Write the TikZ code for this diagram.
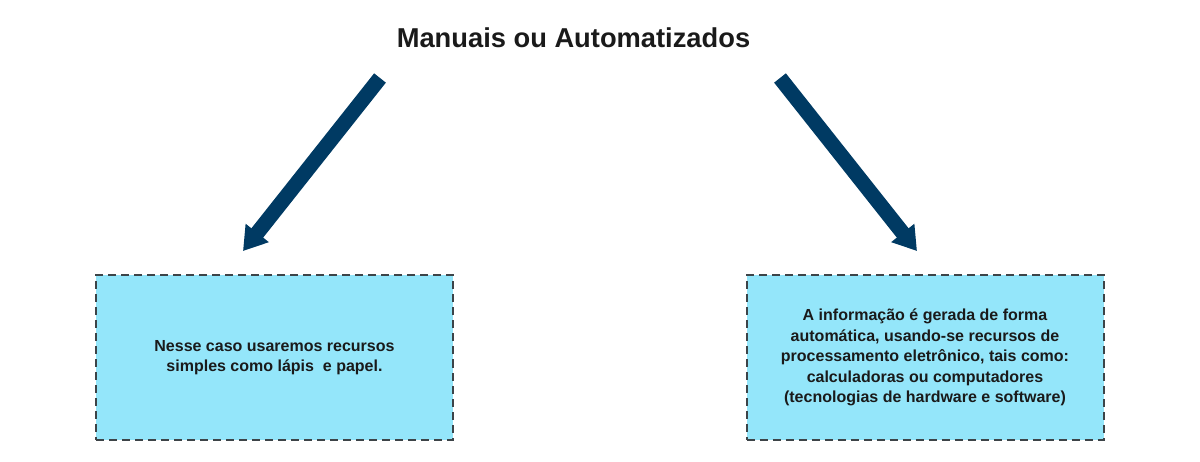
\documentclass[tikz,border=0pt]{standalone}
\usepackage{fontspec}
\setmainfont{Liberation Sans}
\usetikzlibrary{arrows.meta}
\definecolor{navy}{HTML}{003A63}
\definecolor{boxfill}{HTML}{94E6FA}
\definecolor{boxline}{HTML}{3D4448}
\definecolor{txt}{HTML}{1A1A1A}
\tikzset{
  infobox/.style={draw=boxline, fill=boxfill, line width=2pt, dash pattern=on 8pt off 5pt,
    minimum width=357pt, minimum height=164pt, inner sep=0pt, text=txt,
    font=\fontsize{16}{20.5}\selectfont\bfseries, align=center},
  bigarrow/.style={draw=navy, line width=15pt, -{Triangle[width=28pt,length=23pt]}},
}
\begin{document}
\begin{tikzpicture}[x=1pt,y=-1pt]
\useasboundingbox (0,0) rectangle (1200,462);
\node[text=txt, font=\fontsize{27.3}{30}\selectfont\bfseries] (title) at (573.5,37.5) {Manuais ou Automatizados};
\node[infobox] (left) at (274.5,357.5) {Nesse caso usaremos recursos\\simples como lápis~ e papel.};
\node[infobox] (right) at (925,357.5) {A informação é gerada de forma\\automática, usando-se recursos de\\processamento eletrônico, tais como:\\calculadoras ou computadores\\(tecnologias de hardware e software)};
\coordinate (ls) at (380,78);
\coordinate (le) at (243,251);
\coordinate (rs) at (780,78);
\coordinate (re) at (917,251);
\draw[bigarrow] (ls) -- (le);
\draw[bigarrow] (rs) -- (re);
\end{tikzpicture}
\end{document}
